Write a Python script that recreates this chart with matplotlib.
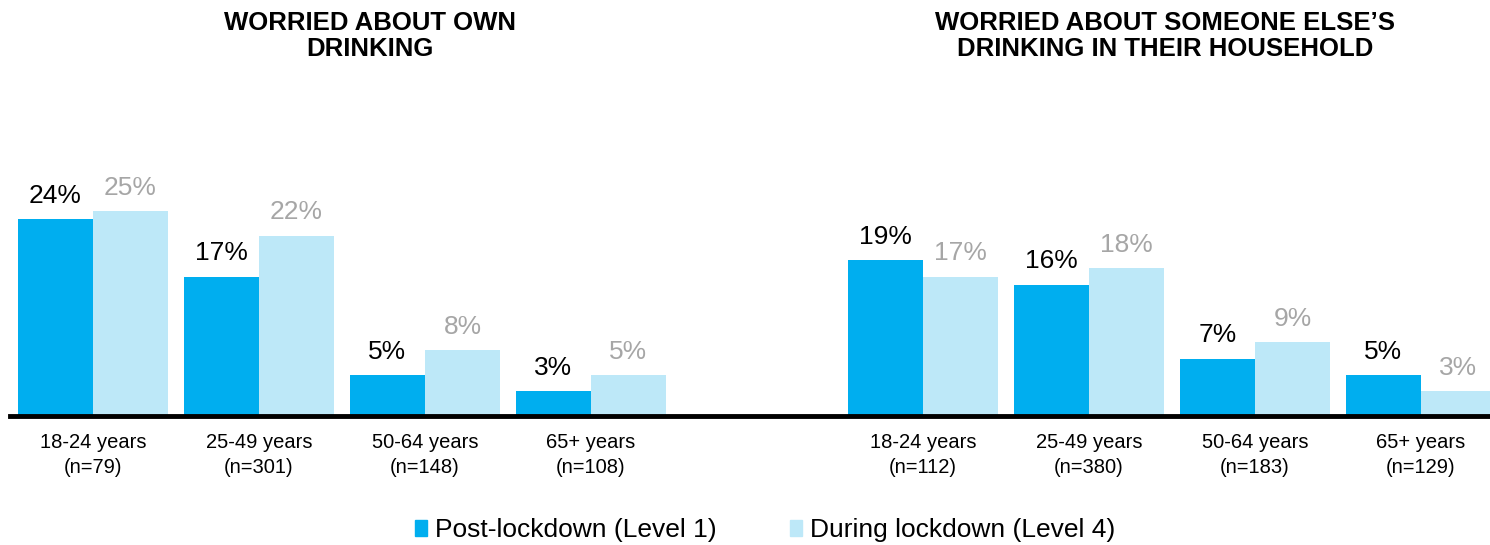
import numpy as np
import matplotlib.pyplot as plt
from matplotlib.patches import Patch

plt.rcParams['font.family'] = ['Liberation Sans', 'DejaVu Sans']

ages = ['18-24 years', '25-49 years', '50-64 years', '65+ years']
own_n = ['(n=79)', '(n=301)', '(n=148)', '(n=108)']
else_n = ['(n=112)', '(n=380)', '(n=183)', '(n=129)']

own_post = [24, 17, 5, 3]
own_during = [25, 22, 8, 5]
else_post = [19, 16, 7, 5]
else_during = [17, 18, 9, 3]

titles = ['WORRIED ABOUT OWN\nDRINKING',
          'WORRIED ABOUT SOMEONE ELSE\u2019S\nDRINKING IN THEIR HOUSEHOLD']
legend_labels = ['Post-lockdown (Level 1)', 'During lockdown (Level 4)']

dark = '#00AEEF'
light = '#BDE8F8'
grey = '#A6A6A6'

W, H = 1490, 545
fig = plt.figure(figsize=(W / 100, H / 100), dpi=100)

# axes placed in pixel terms: baseline at y=416, 8.2 px per percent
pitch = 166.0
bw = 75.0 / pitch
x0_px = 93.0
ymax = 30
ax = fig.add_axes([10 / W, (H - 416) / H, (1500 - 10) / W, 8.2 * ymax / H])
ax.set_xlim((10 - x0_px) / pitch, (1500 - x0_px) / pitch)
ax.set_ylim(0, ymax)

pos = np.array([0, 1, 2, 3, 5, 6, 7, 8], dtype=float)
post = own_post + else_post
during = own_during + else_during

b1 = ax.bar(pos - bw / 2, post, bw, color=dark)
b2 = ax.bar(pos + bw / 2, during, bw, color=light)

for x, v in zip(pos - bw / 2, post):
    ax.text(x, v + 1.4, f'{v}%', ha='center', va='bottom', fontsize=19, color='black')
for x, v in zip(pos + bw / 2, during):
    ax.text(x, v + 1.4, f'{v}%', ha='center', va='bottom', fontsize=19, color=grey)

ax.set_xticks(pos)
ax.set_xticklabels([f'{a}\n{n}' for a, n in zip(ages + ages, own_n + else_n)],
                   fontsize=14.5, linespacing=1.45)
ax.tick_params(axis='x', length=0, pad=12)
ax.set_yticks([])
for s in ['top', 'right', 'left']:
    ax.spines[s].set_visible(False)
ax.spines['bottom'].set_linewidth(3.5)
ax.spines['bottom'].set_color('black')

# panel titles
fig.text(370 / W, 1 - 36 / H, titles[0], ha='center', va='center',
         fontsize=18.5, fontweight='bold', linespacing=1.15)
fig.text(1165 / W, 1 - 36 / H, titles[1], ha='center', va='center',
         fontsize=18.5, fontweight='bold', linespacing=1.15)

handles = [Patch(color=dark), Patch(color=light)]
fig.legend(handles, legend_labels, loc='center', bbox_to_anchor=(765 / W, 1 - 530 / H),
           ncol=2, frameon=False, fontsize=19, handlelength=0.45, handleheight=0.55,
           handletextpad=0.3, columnspacing=2.8, borderpad=0)

fig.savefig('out.png', dpi=100)
